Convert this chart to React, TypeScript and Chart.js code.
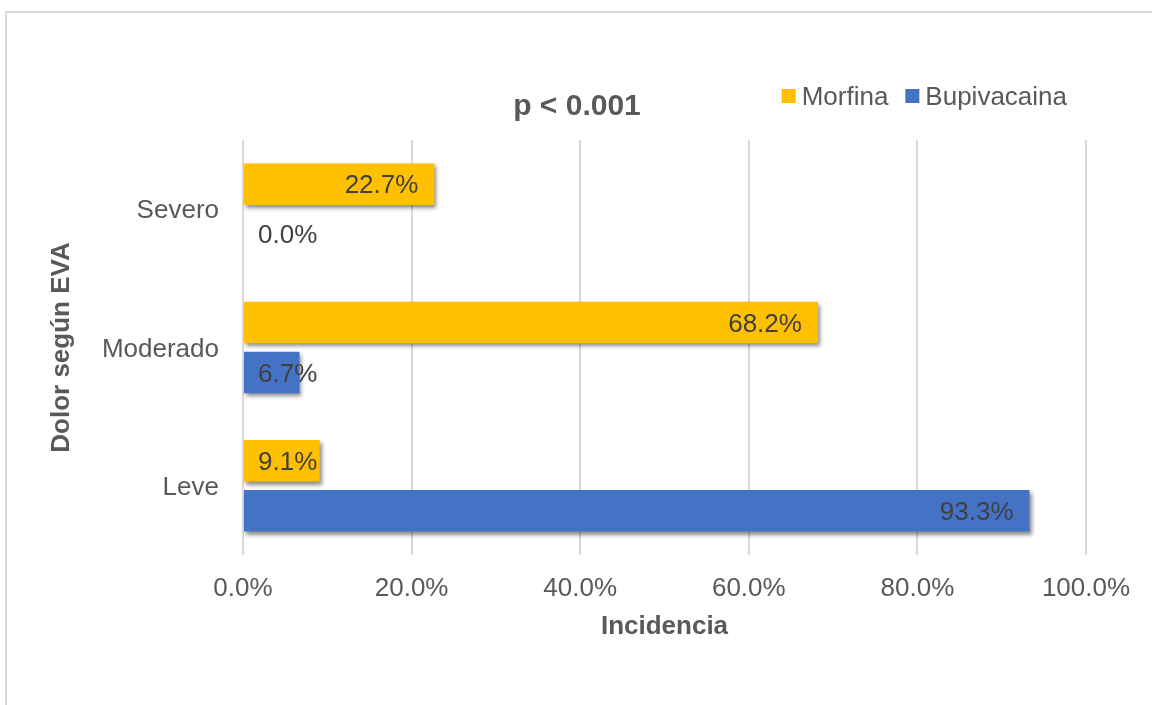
import React, { useEffect, useRef } from "react";
import { Chart, registerables } from "chart.js";

Chart.register(...registerables);

const categories = ["Severo", "Moderado", "Leve"];
const morfina = [22.7, 68.2, 9.1];
const bupivacaina = [0.0, 6.7, 93.3];
const seriesNames = ["Morfina", "Bupivacaina"];
const seriesColors = ["#FFC000", "#4472C4"];
const xMin = 0;
const xMax = 100;
const xStep = 20;
const titleText = "p < 0.001";
const xTitle = "Incidencia";
const yTitle = "Dolor según EVA";

const FONT = "'Liberation Sans', Arial, Helvetica, sans-serif";
const TEXT = "#595959";
const LABEL = "#404040";

const framePlugin = {
  id: "frame",
  beforeDraw(chart: any) {
    const { ctx, width, height } = chart;
    ctx.save();
    ctx.fillStyle = "#FFFFFF";
    ctx.fillRect(0, 0, width, height);
    ctx.strokeStyle = "#D9D9D9";
    ctx.lineWidth = 2;
    ctx.strokeRect(6, 12, width + 20, height + 20);
    ctx.restore();
  },
};

const shadowPlugin = {
  id: "barShadow",
  beforeDatasetDraw(chart: any) {
    const ctx = chart.ctx;
    ctx.save();
    ctx.shadowColor = "rgba(0,0,0,0.45)";
    ctx.shadowBlur = 4;
    ctx.shadowOffsetX = 2;
    ctx.shadowOffsetY = 3;
  },
  afterDatasetDraw(chart: any) {
    chart.ctx.restore();
  },
};

const labelPlugin = {
  id: "valueLabels",
  afterDatasetsDraw(chart: any) {
    const { ctx, chartArea } = chart;
    ctx.save();
    ctx.font = `26px ${FONT}`;
    ctx.fillStyle = LABEL;
    ctx.textAlign = "left";
    ctx.textBaseline = "middle";
    chart.data.datasets.forEach((ds: any, di: number) => {
      const meta = chart.getDatasetMeta(di);
      meta.data.forEach((bar: any, i: number) => {
        const v = ds.data[i] as number;
        const text = v.toFixed(1) + "%";
        const w = ctx.measureText(text).width;
        const x = Math.max(bar.x - 16 - w, chartArea.left + 15);
        ctx.fillText(text, x, bar.y + 2);
      });
    });
    ctx.restore();
  },
};

const headerPlugin = {
  id: "header",
  afterDraw(chart: any) {
    const { ctx, chartArea, width } = chart;
    ctx.save();
    ctx.font = `bold 30px ${FONT}`;
    ctx.fillStyle = TEXT;
    ctx.textAlign = "center";
    ctx.textBaseline = "middle";
    ctx.fillText(titleText, width / 2 + 1, 107);
    ctx.font = `26px ${FONT}`;
    ctx.textAlign = "left";
    const box = 14;
    const gapBox = 6;
    const gapItem = 17;
    const widths = seriesNames.map((n) => ctx.measureText(n).width);
    const total = widths.reduce((a, w) => a + box + gapBox + w, 0) + gapItem * (seriesNames.length - 1);
    let x = chartArea.right - 19 - total;
    const yMid = 96;
    seriesNames.forEach((n, i) => {
      ctx.fillStyle = seriesColors[i];
      ctx.fillRect(x, yMid - box / 2, box, box);
      x += box + gapBox;
      ctx.fillStyle = TEXT;
      ctx.fillText(n, x, yMid + 2);
      x += widths[i] + gapItem;
    });
    ctx.restore();
  },
};

export default function App() {
  const canvasRef = useRef<HTMLCanvasElement | null>(null);

  useEffect(() => {
    if (!canvasRef.current) return;
    const chart = new Chart(canvasRef.current, {
      type: "bar",
      data: {
        labels: categories,
        datasets: [
          {
            label: seriesNames[0],
            data: morfina,
            backgroundColor: seriesColors[0],
            barPercentage: 0.83,
            categoryPercentage: 0.723,
          },
          {
            label: seriesNames[1],
            data: bupivacaina,
            backgroundColor: seriesColors[1],
            barPercentage: 0.83,
            categoryPercentage: 0.723,
          },
        ],
      },
      options: {
        indexAxis: "y",
        responsive: false,
        animation: false,
        devicePixelRatio: 1,
        layout: { padding: { top: 140, right: 66, left: 0, bottom: 0 } },
        plugins: {
          legend: { display: false },
          title: { display: false },
          tooltip: { enabled: false },
        },
        scales: {
          x: {
            type: "linear",
            min: xMin,
            max: xMax,
            ticks: {
              stepSize: xStep,
              color: TEXT,
              font: { family: FONT, size: 26 },
              padding: 18,
              callback: (v: any) => Number(v).toFixed(1) + "%",
            },
            grid: { color: "#D9D9D9", lineWidth: 2, drawTicks: false },
            border: { display: false },
            title: {
              display: true,
              text: xTitle,
              color: TEXT,
              font: { family: FONT, size: 26, weight: "bold" },
              padding: { top: 0, bottom: 63 },
            },
            afterFit: (s: any) => {
              s.height = 150;
            },
          },
          y: {
            type: "category",
            ticks: {
              color: TEXT,
              font: { family: FONT, size: 26 },
              padding: 24,
              labelOffset: 2,
            },
            grid: { display: false, drawTicks: false },
            border: { display: false },
            title: {
              display: true,
              text: yTitle,
              color: TEXT,
              font: { family: FONT, size: 26, weight: "bold" },
              padding: { top: 46, bottom: 0 },
            },
            afterFit: (s: any) => {
              s.width = 243;
            },
          },
        },
      } as any,
      plugins: [framePlugin, shadowPlugin, labelPlugin, headerPlugin],
    });
    return () => chart.destroy();
  }, []);

  return (
    <div style={{ position: "absolute", left: 0, top: 0, width: 1152, height: 705, overflow: "hidden" }}>
      <canvas ref={canvasRef} width={1152} height={705} style={{ display: "block" }} />
    </div>
  );
}
